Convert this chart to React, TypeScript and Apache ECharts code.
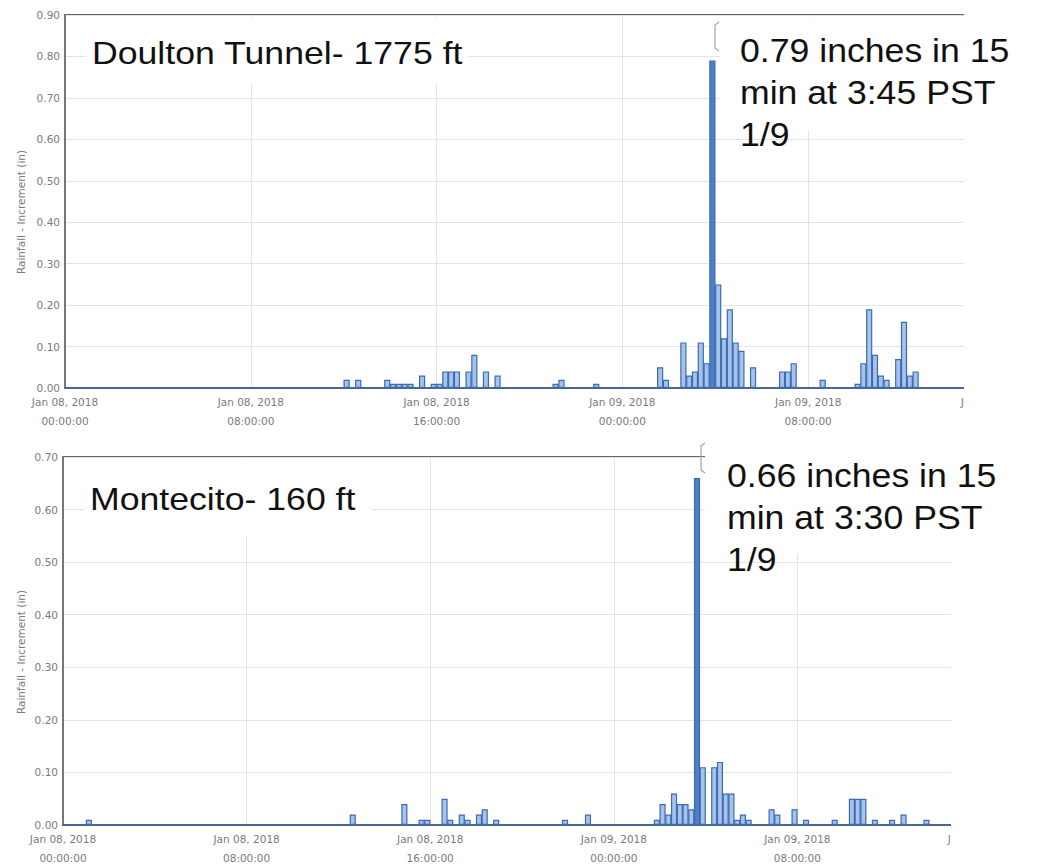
import React, { useEffect, useRef } from "react";
import * as echarts from "echarts";

// ---------- data ----------
const xTickLabels = [
  "Jan 08, 2018\n00:00:00",
  "Jan 08, 2018\n08:00:00",
  "Jan 08, 2018\n16:00:00",
  "Jan 09, 2018\n00:00:00",
  "Jan 09, 2018\n08:00:00",
  "Jan 09, 2018\n16:00:00",
];

// 15-minute intervals (start time), Doulton Tunnel
const doultonTimes = [
  "01-08 12:00", "01-08 12:30", "01-08 13:45", "01-08 14:00", "01-08 14:15", "01-08 14:30",
  "01-08 14:45", "01-08 15:15", "01-08 15:45", "01-08 16:00", "01-08 16:15", "01-08 16:30",
  "01-08 16:45", "01-08 17:15", "01-08 17:30", "01-08 18:00", "01-08 18:30", "01-08 21:00",
  "01-08 21:15", "01-08 22:45", "01-09 01:30", "01-09 01:45", "01-09 02:30", "01-09 02:45",
  "01-09 03:00", "01-09 03:15", "01-09 03:30", "01-09 03:45", "01-09 04:00", "01-09 04:15",
  "01-09 04:30", "01-09 04:45", "01-09 05:00", "01-09 05:30", "01-09 06:45", "01-09 07:00",
  "01-09 07:15", "01-09 08:30", "01-09 10:00", "01-09 10:15", "01-09 10:30", "01-09 10:45",
  "01-09 11:00", "01-09 11:15", "01-09 11:45", "01-09 12:00", "01-09 12:15", "01-09 12:30",
];
const doultonValues = [
  0.02, 0.02, 0.02, 0.01, 0.01, 0.01,
  0.01, 0.03, 0.01, 0.01, 0.04, 0.04,
  0.04, 0.04, 0.08, 0.04, 0.03, 0.01,
  0.02, 0.01, 0.05, 0.02, 0.11, 0.03,
  0.04, 0.11, 0.06, 0.79, 0.25, 0.12,
  0.19, 0.11, 0.09, 0.05, 0.04, 0.04,
  0.06, 0.02, 0.01, 0.06, 0.19, 0.08,
  0.03, 0.02, 0.07, 0.16, 0.03, 0.04,
];

// Montecito
const montecitoTimes = [
  "01-08 01:00", "01-08 12:30", "01-08 14:45", "01-08 15:30", "01-08 15:45", "01-08 16:30",
  "01-08 16:45", "01-08 17:15", "01-08 17:30", "01-08 18:00", "01-08 18:15", "01-08 18:45",
  "01-08 21:45", "01-08 22:45", "01-09 01:45", "01-09 02:00", "01-09 02:15", "01-09 02:30",
  "01-09 02:45", "01-09 03:00", "01-09 03:15", "01-09 03:30", "01-09 03:45", "01-09 04:15",
  "01-09 04:30", "01-09 04:45", "01-09 05:00", "01-09 05:15", "01-09 05:30", "01-09 05:45",
  "01-09 06:45", "01-09 07:00", "01-09 07:45", "01-09 08:15", "01-09 09:30", "01-09 10:15",
  "01-09 10:30", "01-09 10:45", "01-09 11:15", "01-09 12:00", "01-09 12:30", "01-09 13:30",
];
const montecitoValues = [
  0.01, 0.02, 0.04, 0.01, 0.01, 0.05,
  0.01, 0.02, 0.01, 0.02, 0.03, 0.01,
  0.01, 0.02, 0.01, 0.04, 0.02, 0.06,
  0.04, 0.04, 0.03, 0.66, 0.11, 0.11,
  0.12, 0.06, 0.06, 0.01, 0.02, 0.01,
  0.03, 0.02, 0.03, 0.01, 0.01, 0.05,
  0.05, 0.05, 0.01, 0.01, 0.02, 0.01,
];

const titles = ["Doulton Tunnel- 1775 ft", "Montecito- 160 ft"];
const notes = [
  "0.79 inches in 15\nmin at 3:45 PST\n1/9",
  "0.66 inches in 15\nmin at 3:30 PST\n1/9",
];
const yAxisName = "Rainfall - Increment (in)";

// ---------- helpers ----------
const toHours = (s: string) => {
  const day = parseInt(s.slice(3, 5), 10) - 8;
  const hh = parseInt(s.slice(6, 8), 10);
  const mm = parseInt(s.slice(9, 11), 10);
  return day * 24 + hh + mm / 60 + 0.125; // centre of the 15-min interval
};

const buildData = (times: string[], values: number[]) => {
  const max = Math.max(...values);
  return times.map((t, i) =>
    values[i] === max
      ? { value: [toHours(t), values[i]], itemStyle: { color: "#4d80c6" } }
      : { value: [toHours(t), values[i]] }
  );
};

const GRID_W = [929, 918];

export default function App() {
  const ref = useRef<HTMLDivElement>(null);

  useEffect(() => {
    if (!ref.current) return;
    const chart = echarts.init(ref.current, undefined, { renderer: "svg" });

    const labelFont = "DejaVu Sans";
    const mkX = (gridIndex: number) => ({
      type: "value",
      gridIndex,
      min: 0,
      max: 40,
      interval: 8,
      axisLine: { show: true, lineStyle: { color: "#46679a", width: 2 } },
      axisTick: { show: false },
      splitLine: { show: true, lineStyle: { color: "#e4e4e4", width: 1 } },
      axisLabel: {
        formatter: (v: number) => xTickLabels[Math.round(v / 8)] ?? "",
        fontSize: 10.5,
        lineHeight: 19,
        color: "#7a7a7a",
        fontFamily: labelFont,
        margin: 4,
        showMaxLabel: true,
      },
    });
    const mkY = (gridIndex: number, max: number) => ({
      type: "value",
      gridIndex,
      min: 0,
      max,
      interval: 0.1,
      axisLine: { show: true, lineStyle: { color: "#777", width: 2 } },
      axisTick: { show: false },
      splitLine: { show: true, lineStyle: { color: "#e4e4e4", width: 1 } },
      axisLabel: {
        formatter: (v: number) => v.toFixed(2),
        fontSize: 10.5,
        color: "#7a7a7a",
        fontFamily: labelFont,
        margin: 5,
      },
    });

    const barStyle = { color: "#a5c3ec", borderColor: "#3d6bb0", borderWidth: 1.2 };

    const white = { fill: "#ffffff" };
    const txt = (text: string, x: number, y: number, fontSize: number, scaleX: number, lineHeight?: number) => ({
      type: "text",
      x,
      y,
      scaleX,
      z: 110,
      style: {
        text,
        fill: "#111",
        fontSize,
        fontFamily: "Liberation Sans",
        lineHeight: lineHeight ?? fontSize * 1.2,
        align: "left",
        verticalAlign: "top",
      },
    });

    chart.setOption({
      animation: false,
      grid: [
        { left: 65, top: 15, width: GRID_W[0], height: 373, show: true, borderColor: "#666", borderWidth: 2 },
        { left: 63, top: 457, width: GRID_W[1], height: 370, show: true, borderColor: "#666", borderWidth: 2 },
      ],
      xAxis: [mkX(0), mkX(1)],
      yAxis: [mkY(0, 0.9), mkY(1, 0.7)],
      series: [
        {
          type: "bar",
          xAxisIndex: 0,
          yAxisIndex: 0,
          data: buildData(doultonTimes, doultonValues),
          barWidth: GRID_W[0] / 160 + 0.4,
          itemStyle: barStyle,
        },
        {
          type: "bar",
          xAxisIndex: 1,
          yAxisIndex: 1,
          data: buildData(montecitoTimes, montecitoValues),
          barWidth: GRID_W[1] / 160 + 0.4,
          itemStyle: barStyle,
        },
      ],
      graphic: [
        // white cover boxes (slide text boxes / cropped area)
        { type: "rect", z: 100, shape: { x: 86, y: 18, width: 382, height: 65 }, style: white },
        { type: "rect", z: 100, shape: { x: 720, y: 17, width: 323, height: 113 }, style: white },
        { type: "rect", z: 100, shape: { x: 964, y: 0, width: 79, height: 440 }, style: white },
        { type: "rect", z: 100, shape: { x: 84, y: 459, width: 288, height: 78 }, style: white },
        { type: "rect", z: 100, shape: { x: 705, y: 444, width: 338, height: 110 }, style: white },
        { type: "rect", z: 100, shape: { x: 951, y: 440, width: 92, height: 427 }, style: white },
        // tooltip brackets
        {
          type: "polyline", z: 105,
          shape: { points: [[719, 22], [715, 25], [715, 48], [719, 51]] },
          style: { stroke: "#9aa6b6", lineWidth: 1.2, fill: null },
        },
        {
          type: "polyline", z: 105,
          shape: { points: [[705, 443], [701, 446], [701, 470], [705, 473]] },
          style: { stroke: "#9aa6b6", lineWidth: 1.2, fill: null },
        },
        // axis names
        {
          type: "text", x: 21, y: 212, rotation: Math.PI / 2, z: 110,
          style: { text: yAxisName, fill: "#7a7a7a", fontSize: 10.5, fontFamily: labelFont, align: "center", verticalAlign: "middle" },
        },
        {
          type: "text", x: 21, y: 652, rotation: Math.PI / 2, z: 110,
          style: { text: yAxisName, fill: "#7a7a7a", fontSize: 10.5, fontFamily: labelFont, align: "center", verticalAlign: "middle" },
        },
        // titles and notes
        txt(titles[0], 92, 35, 31, 1.15),
        txt(notes[0], 740, 29, 33, 1.08, 42),
        txt(titles[1], 90, 481, 31, 1.15),
        txt(notes[1], 727, 454, 33, 1.08, 42),
      ],
    });

    return () => chart.dispose();
  }, []);

  return (
    <div
      ref={ref}
      style={{ position: "fixed", left: 0, top: 0, width: 1043, height: 867, background: "#fff" }}
    />
  );
}
